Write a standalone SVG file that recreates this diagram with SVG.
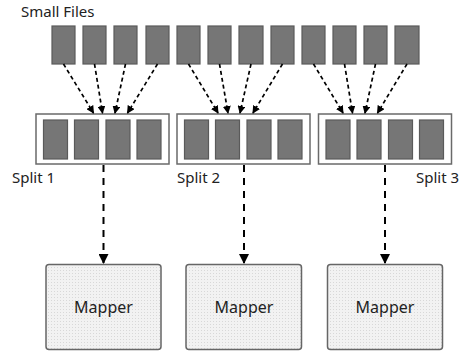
<svg xmlns="http://www.w3.org/2000/svg" width="469" height="351" viewBox="0 0 469 351">
<defs>
<style>
.file{fill:#767676;stroke:#5a5a5a;stroke-width:1.2}
.split{fill:#fff;stroke:#6a6a6a;stroke-width:1.5}
.mapper{fill:url(#dots);stroke:#666;stroke-width:1.5}
.lbl{font-family:"Noto Sans","Open Sans",sans-serif;font-size:15px;fill:#222}
.mlbl{font-family:"Noto Sans","Open Sans",sans-serif;font-size:16px;fill:#222;text-anchor:middle}
.in{stroke:#000;stroke-width:1.7;stroke-dasharray:4 3;fill:none}
.down{stroke:#000;stroke-width:2;stroke-dasharray:7 6;fill:none}
</style>
<pattern id="dots" width="3" height="3" patternUnits="userSpaceOnUse">
<rect width="3" height="3" fill="#f2f2f2"/>
<rect width="1" height="1" fill="#d8d8d8"/>
</pattern>
<marker id="ah" markerWidth="8" markerHeight="8" refX="7" refY="4" orient="auto" markerUnits="userSpaceOnUse">
<path d="M0,0 L8,4 L0,8 Z" fill="#000"/>
</marker>
<marker id="ah2" markerWidth="10" markerHeight="10" refX="9" refY="5" orient="auto" markerUnits="userSpaceOnUse">
<path d="M0,0 L10,5 L0,10 Z" fill="#000"/>
</marker>
</defs>
<rect width="469" height="351" fill="#fff"/>
<text class="lbl" x="21" y="17">Small Files</text>
<g id="files">
<rect class="file" x="52" y="26" width="23" height="38"/>
<rect class="file" x="83" y="26" width="23" height="38"/>
<rect class="file" x="114" y="26" width="23" height="38"/>
<rect class="file" x="146" y="26" width="23" height="38"/>
<rect class="file" x="177" y="26" width="23" height="38"/>
<rect class="file" x="208" y="26" width="23" height="38"/>
<rect class="file" x="239" y="26" width="24" height="38"/>
<rect class="file" x="271" y="26" width="23" height="38"/>
<rect class="file" x="302" y="26" width="23" height="38"/>
<rect class="file" x="333" y="26" width="23" height="38"/>
<rect class="file" x="364" y="26" width="23" height="38"/>
<rect class="file" x="395" y="26" width="24" height="38"/>
</g>
<g id="split1">
<rect class="split" x="36" y="114" width="133" height="50"/>
<rect class="file" x="43.5" y="120" width="24" height="39"/>
<rect class="file" x="74.5" y="120" width="24" height="39"/>
<rect class="file" x="106" y="120" width="24" height="39"/>
<rect class="file" x="137" y="120" width="24" height="39"/>
<text class="lbl" x="12" y="183">Split 1</text>
</g>
<g id="split2">
<rect class="split" x="177" y="114" width="133" height="50"/>
<rect class="file" x="184.5" y="120" width="24" height="39"/>
<rect class="file" x="215.5" y="120" width="24" height="39"/>
<rect class="file" x="247" y="120" width="24" height="39"/>
<rect class="file" x="278" y="120" width="24" height="39"/>
<text class="lbl" x="177" y="183">Split 2</text>
</g>
<g id="split3">
<rect class="split" x="318.5" y="114" width="133" height="50"/>
<rect class="file" x="326" y="120" width="24" height="39"/>
<rect class="file" x="357" y="120" width="24" height="39"/>
<rect class="file" x="388.5" y="120" width="24" height="39"/>
<rect class="file" x="419.5" y="120" width="24" height="39"/>
<text class="lbl" x="416" y="183">Split 3</text>
</g>
<g id="mapper1">
<rect class="mapper" x="46" y="264.5" width="115" height="85" rx="3"/>
<text class="mlbl" x="103.5" y="313">Mapper</text>
</g>
<g id="mapper2">
<rect class="mapper" x="186" y="264.5" width="115.5" height="85" rx="3"/>
<text class="mlbl" x="244" y="313">Mapper</text>
</g>
<g id="mapper3">
<rect class="mapper" x="327.5" y="264.5" width="115" height="85" rx="3"/>
<text class="mlbl" x="385" y="313">Mapper</text>
</g>
<g id="connectors">
<line class="in" x1="63.5" y1="64" x2="93.5" y2="113" marker-end="url(#ah)"/>
<line class="in" x1="94.5" y1="64" x2="102.5" y2="113" marker-end="url(#ah)"/>
<line class="in" x1="125.5" y1="64" x2="115" y2="113" marker-end="url(#ah)"/>
<line class="in" x1="157.5" y1="64" x2="127.5" y2="113" marker-end="url(#ah)"/>
<line class="in" x1="188.5" y1="64" x2="218" y2="113" marker-end="url(#ah)"/>
<line class="in" x1="219.5" y1="64" x2="228" y2="113" marker-end="url(#ah)"/>
<line class="in" x1="251" y1="64" x2="240" y2="113" marker-end="url(#ah)"/>
<line class="in" x1="282.5" y1="64" x2="253" y2="113" marker-end="url(#ah)"/>
<line class="in" x1="313.5" y1="64" x2="343" y2="113" marker-end="url(#ah)"/>
<line class="in" x1="344.5" y1="64" x2="352.5" y2="113" marker-end="url(#ah)"/>
<line class="in" x1="375.5" y1="64" x2="365" y2="113" marker-end="url(#ah)"/>
<line class="in" x1="407" y1="64" x2="377.5" y2="113" marker-end="url(#ah)"/>
<line class="down" x1="103.5" y1="165" x2="103.5" y2="263" marker-end="url(#ah2)"/>
<line class="down" x1="244" y1="165" x2="244" y2="263" marker-end="url(#ah2)"/>
<line class="down" x1="385" y1="165" x2="385" y2="263" marker-end="url(#ah2)"/>
</g>
</svg>
